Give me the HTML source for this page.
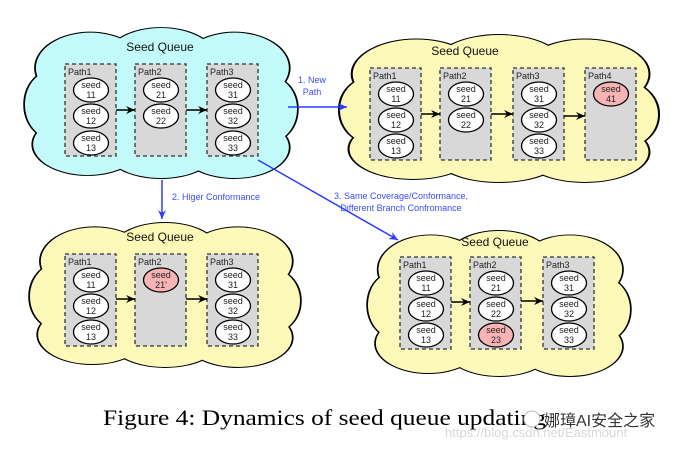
<!DOCTYPE html>
<html><head><meta charset="utf-8"><style>
html,body{margin:0;padding:0;background:#fff;}
svg{display:block;}
text{font-family:"Liberation Sans",sans-serif;}
</style></head><body>
<svg width="676" height="451" viewBox="0 0 676 451" xmlns="http://www.w3.org/2000/svg">
<defs>
<g id="cs">
<ellipse cx="50" cy="52" rx="42" ry="35"/>
<ellipse cx="24" cy="28" rx="20" ry="23"/>
<ellipse cx="50" cy="22" rx="20" ry="20"/>
<ellipse cx="77" cy="28" rx="20" ry="23"/>
<ellipse cx="89" cy="55" rx="11" ry="22"/>
<ellipse cx="77" cy="80" rx="20" ry="20"/>
<ellipse cx="50" cy="82" rx="20" ry="18"/>
<ellipse cx="23" cy="78" rx="20" ry="20"/>
<ellipse cx="10" cy="52" rx="10" ry="22"/>
</g>
<marker id="ab" markerWidth="10" markerHeight="10" refX="9" refY="5" orient="auto" markerUnits="userSpaceOnUse"><path d="M0,1 L9,5 L0,9 L3,5 Z" fill="#000"/></marker>
<marker id="ablu" markerWidth="10" markerHeight="10" refX="9" refY="5" orient="auto" markerUnits="userSpaceOnUse"><path d="M0,1 L9,5 L0,9 L3,5 Z" fill="#2a3cff"/></marker>
<g id="box"><rect x="0" y="0" width="51" height="92" fill="#d8d8d8" stroke="#333" stroke-width="1.3" stroke-dasharray="4,3"/></g>
</defs>

<!-- clouds: stroke layer then fill layer -->
<g transform="translate(25,25) scale(2.72,1.53)" fill="none" stroke="#000" stroke-width="1.3" vector-effect="non-scaling-stroke"><use href="#cs" style="vector-effect:non-scaling-stroke"/></g>
<g transform="translate(25,25) scale(2.72,1.53)" fill="#c3fbfb"><use href="#cs"/></g>

<g transform="translate(340,32) scale(3.18,1.50)" fill="none" stroke="#000" stroke-width="1.3"><use href="#cs" style="vector-effect:non-scaling-stroke"/></g>
<g transform="translate(340,32) scale(3.18,1.50)" fill="#fdf9b8"><use href="#cs"/></g>

<g transform="translate(30,220) scale(2.70,1.47)" fill="none" stroke="#000" stroke-width="1.3"><use href="#cs" style="vector-effect:non-scaling-stroke"/></g>
<g transform="translate(30,220) scale(2.70,1.47)" fill="#fdf9b8"><use href="#cs"/></g>

<g transform="translate(368,228) scale(2.62,1.48)" fill="none" stroke="#000" stroke-width="1.3"><use href="#cs" style="vector-effect:non-scaling-stroke"/></g>
<g transform="translate(368,228) scale(2.62,1.48)" fill="#fdf9b8"><use href="#cs"/></g>

<g font-size="12" fill="#111" text-anchor="middle">
<text x="160" y="51">Seed Queue</text>
<text x="465" y="55">Seed Queue</text>
<text x="160" y="241">Seed Queue</text>
<text x="495" y="246">Seed Queue</text>
</g>

<!-- cloud 1 -->
<g transform="translate(65,64)" font-size="9" fill="#222">
 <use href="#box"/><use href="#box" x="70"/><use href="#box" x="142"/>
 <text x="3" y="11">Path1</text><text x="73" y="11">Path2</text><text x="145" y="11">Path3</text>
 <g stroke="#000" stroke-width="1.3" fill="#fff">
  <ellipse cx="26" cy="26" rx="17.5" ry="12"/><ellipse cx="26" cy="52" rx="17.5" ry="12"/><ellipse cx="26" cy="79" rx="17.5" ry="12"/>
  <ellipse cx="96" cy="26" rx="17.5" ry="12"/><ellipse cx="96" cy="52" rx="17.5" ry="12"/>
  <ellipse cx="168" cy="26" rx="17.5" ry="12"/><ellipse cx="168" cy="52" rx="17.5" ry="12"/><ellipse cx="168" cy="79" rx="17.5" ry="12"/>
 </g>
 <g text-anchor="middle">
  <text x="26" y="24">seed</text><text x="26" y="34">11</text><text x="26" y="50">seed</text><text x="26" y="60">12</text><text x="26" y="77">seed</text><text x="26" y="87">13</text>
  <text x="96" y="24">seed</text><text x="96" y="34">21</text><text x="96" y="50">seed</text><text x="96" y="60">22</text>
  <text x="168" y="24">seed</text><text x="168" y="34">31</text><text x="168" y="50">seed</text><text x="168" y="60">32</text><text x="168" y="77">seed</text><text x="168" y="87">33</text>
 </g>
 <g stroke="#000" stroke-width="1.5"><line x1="51" y1="46" x2="70" y2="46" marker-end="url(#ab)"/><line x1="121" y1="46" x2="142" y2="46" marker-end="url(#ab)"/></g>
</g>

<!-- cloud 3 -->
<g transform="translate(65,254)" font-size="9" fill="#222">
 <use href="#box"/><use href="#box" x="70"/><use href="#box" x="142"/>
 <text x="3" y="11">Path1</text><text x="73" y="11">Path2</text><text x="145" y="11">Path3</text>
 <g stroke="#000" stroke-width="1.3" fill="#fff">
  <ellipse cx="26" cy="26" rx="17.5" ry="12"/><ellipse cx="26" cy="52" rx="17.5" ry="12"/><ellipse cx="26" cy="78" rx="17.5" ry="12"/>
  <ellipse cx="96" cy="26" rx="17.5" ry="12" fill="#f8b4b4"/>
  <ellipse cx="168" cy="26" rx="17.5" ry="12"/><ellipse cx="168" cy="52" rx="17.5" ry="12"/><ellipse cx="168" cy="78" rx="17.5" ry="12"/>
 </g>
 <g text-anchor="middle">
  <text x="26" y="24">seed</text><text x="26" y="34">11</text><text x="26" y="50">seed</text><text x="26" y="60">12</text><text x="26" y="76">seed</text><text x="26" y="86">13</text>
  <text x="96" y="24">seed</text><text x="96" y="34">21'</text>
  <text x="168" y="24">seed</text><text x="168" y="34">31</text><text x="168" y="50">seed</text><text x="168" y="60">32</text><text x="168" y="76">seed</text><text x="168" y="86">33</text>
 </g>
 <g stroke="#000" stroke-width="1.5"><line x1="51" y1="45" x2="70" y2="45" marker-end="url(#ab)"/><line x1="121" y1="45" x2="142" y2="45" marker-end="url(#ab)"/></g>
</g>

<!-- cloud 2 -->
<g transform="translate(370,68)" font-size="9" fill="#222">
 <use href="#box"/><use href="#box" x="70"/><use href="#box" x="143"/><use href="#box" x="215"/>
 <text x="3" y="11">Path1</text><text x="73" y="11">Path2</text><text x="146" y="11">Path3</text><text x="218" y="11">Path4</text>
 <g stroke="#000" stroke-width="1.3" fill="#fff">
  <ellipse cx="26" cy="26" rx="17.5" ry="12"/><ellipse cx="26" cy="52" rx="17.5" ry="12"/><ellipse cx="26" cy="78" rx="17.5" ry="12"/>
  <ellipse cx="96" cy="26" rx="17.5" ry="12"/><ellipse cx="96" cy="52" rx="17.5" ry="12"/>
  <ellipse cx="169" cy="26" rx="17.5" ry="12"/><ellipse cx="169" cy="52" rx="17.5" ry="12"/><ellipse cx="169" cy="78" rx="17.5" ry="12"/>
  <ellipse cx="241" cy="26" rx="17.5" ry="12" fill="#f8b4b4"/>
 </g>
 <g text-anchor="middle">
  <text x="26" y="24">seed</text><text x="26" y="34">11</text><text x="26" y="50">seed</text><text x="26" y="60">12</text><text x="26" y="76">seed</text><text x="26" y="86">13</text>
  <text x="96" y="24">seed</text><text x="96" y="34">21</text><text x="96" y="50">seed</text><text x="96" y="60">22</text>
  <text x="169" y="24">seed</text><text x="169" y="34">31</text><text x="169" y="50">seed</text><text x="169" y="60">32</text><text x="169" y="76">seed</text><text x="169" y="86">33</text>
  <text x="241" y="24">seed</text><text x="241" y="34">41</text>
 </g>
 <g stroke="#000" stroke-width="1.5"><line x1="51" y1="46" x2="70" y2="46" marker-end="url(#ab)"/><line x1="121" y1="46" x2="143" y2="46" marker-end="url(#ab)"/><line x1="194" y1="48" x2="215" y2="48" marker-end="url(#ab)"/></g>
</g>

<!-- cloud 4 -->
<g transform="translate(400,257)" font-size="9" fill="#222">
 <use href="#box"/><use href="#box" x="70"/><use href="#box" x="143"/>
 <text x="3" y="11">Path1</text><text x="73" y="11">Path2</text><text x="146" y="11">Path3</text>
 <g stroke="#000" stroke-width="1.3" fill="#fff">
  <ellipse cx="26" cy="26" rx="17.5" ry="12"/><ellipse cx="26" cy="52" rx="17.5" ry="12"/><ellipse cx="26" cy="78" rx="17.5" ry="12"/>
  <ellipse cx="96" cy="26" rx="17.5" ry="12"/><ellipse cx="96" cy="52" rx="17.5" ry="12"/><ellipse cx="96" cy="78" rx="17.5" ry="12" fill="#f8b4b4"/>
  <ellipse cx="169" cy="26" rx="17.5" ry="12"/><ellipse cx="169" cy="52" rx="17.5" ry="12"/><ellipse cx="169" cy="78" rx="17.5" ry="12"/>
 </g>
 <g text-anchor="middle">
  <text x="26" y="24">seed</text><text x="26" y="34">11</text><text x="26" y="50">seed</text><text x="26" y="60">12</text><text x="26" y="76">seed</text><text x="26" y="86">13</text>
  <text x="96" y="24">seed</text><text x="96" y="34">21</text><text x="96" y="50">seed</text><text x="96" y="60">22</text><text x="96" y="76">seed</text><text x="96" y="86">23</text>
  <text x="169" y="24">seed</text><text x="169" y="34">31</text><text x="169" y="50">seed</text><text x="169" y="60">32</text><text x="169" y="76">seed</text><text x="169" y="86">33</text>
 </g>
 <g stroke="#000" stroke-width="1.5"><line x1="51" y1="45" x2="70" y2="45" marker-end="url(#ab)"/><line x1="121" y1="44" x2="143" y2="44" marker-end="url(#ab)"/></g>
</g>

<!-- blue arrows -->
<g stroke="#2a3cff" stroke-width="1.5">
 <line x1="288" y1="107" x2="347" y2="107" marker-end="url(#ablu)"/>
 <line x1="162" y1="180" x2="162" y2="219" marker-end="url(#ablu)"/>
 <line x1="258" y1="160" x2="398" y2="240" marker-end="url(#ablu)"/>
</g>
<g fill="#3a4cff" font-size="9" text-anchor="middle">
 <text x="312" y="83">1. New</text><text x="312" y="95">Path</text>
 <text x="216" y="200">2. Higer Conformance</text>
 <text x="401" y="199">3. Same Coverage/Conformance,</text>
 <text x="401" y="211">Different Branch Confromance</text>
</g>

<text x="103" y="425" font-family="'Liberation Serif',serif" font-size="22" fill="#000" textLength="443" lengthAdjust="spacingAndGlyphs" style="font-family:'Liberation Serif',serif">Figure 4: Dynamics of seed queue updating</text>
<text x="445" y="437" font-size="13" fill="#d8d8d8">https://blog.csdn.net/Eastmount</text>
<circle cx="532" cy="419" r="8" fill="#fff" stroke="#bbb" stroke-width="1"/>
<text x="544" y="426" font-size="16" fill="#333" style="font-family:'Liberation Sans','Noto Sans CJK SC',sans-serif">娜璋AI安全之家</text>
</svg>
</body></html>
